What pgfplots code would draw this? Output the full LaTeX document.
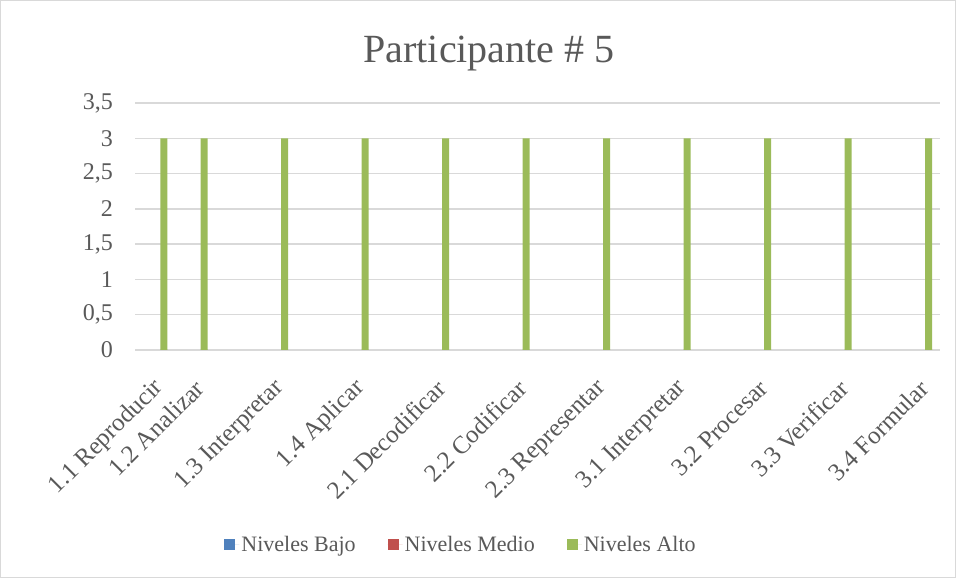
\documentclass[border=0pt]{standalone}
\usepackage{pgfplots}
\pgfplotsset{compat=1.18}
\usepackage{fontspec}
\setmainfont{Liberation Serif}
\definecolor{bajo}{HTML}{4F81BD}
\definecolor{medio}{HTML}{C0504D}
\definecolor{alto}{HTML}{9BBB59}
\definecolor{gridc}{HTML}{D9D9D9}
\definecolor{txt}{HTML}{595959}
\begin{document}
\begin{tikzpicture}
\useasboundingbox (0pt,0pt) rectangle (956pt,578pt);
\draw[color=gridc, line width=1pt] (0.5pt,0.5pt) rectangle (955.5pt,577.5pt);
\node[text=txt, font=\fontsize{40}{46}\selectfont, anchor=base] at (489pt,515pt) {Participante \# 5};
\begin{axis}[
  at={(135pt,228pt)}, anchor=south west,
  scale only axis, width=805pt, height=247pt,
  xmin=1.14, xmax=11.14, ymin=0, ymax=3.5,
  ytick={0,0.5,1,1.5,2,2.5,3,3.5},
  xtick={1.5,2,3,4,5,6,7,8,9,10,11},
  xticklabels={1.1 Reproducir,1.2 Analizar,1.3 Interpretar,1.4 Aplicar,2.1 Decodificar,2.2 Codificar,2.3 Representar,3.1 Interpretar,3.2 Procesar,3.3 Verificar,3.4 Formular},
  /pgf/number format/use comma,
  /pgf/number format/assume math mode=true,
  axis line style={draw=none},
  major tick length=0pt,
  ymajorgrids, grid style={color=gridc, line width=1.3pt},
  yticklabel style={inner sep=0pt, xshift=-22pt, text=txt, font=\fontsize{24}{28}\selectfont},
  xticklabel style={rotate=45, anchor=east, inner sep=0pt, xshift=-6pt, text=txt, font=\fontsize{25}{29}\selectfont},
  xticklabel shift=30pt,
  ybar, bar width=7pt, bar shift=0pt,
  legend columns=3,
  legend style={at={(0.405,-0.789)}, anchor=center, draw=none,
    font=\fontsize{22}{26}\selectfont, text=txt,
    /tikz/every even column/.append style={column sep=30pt}},
  legend image code/.code={\fill[#1] (0pt,-5.5pt) rectangle (11pt,5.5pt); \path (0pt,0pt) -- (15pt,0pt);},
]
\addplot[fill=bajo, draw=none] coordinates {(1.5,0) (2,0) (3,0) (4,0) (5,0) (6,0) (7,0) (8,0) (9,0) (10,0) (11,0)};
\addlegendentry{Niveles Bajo}
\addplot[fill=medio, draw=none] coordinates {(1.5,0) (2,0) (3,0) (4,0) (5,0) (6,0) (7,0) (8,0) (9,0) (10,0) (11,0)};
\addlegendentry{Niveles Medio}
\addplot[fill=alto, draw=none] coordinates {(1.5,3) (2,3) (3,3) (4,3) (5,3) (6,3) (7,3) (8,3) (9,3) (10,3) (11,3)};
\addlegendentry{Niveles Alto}
\end{axis}
\end{tikzpicture}
\end{document}
